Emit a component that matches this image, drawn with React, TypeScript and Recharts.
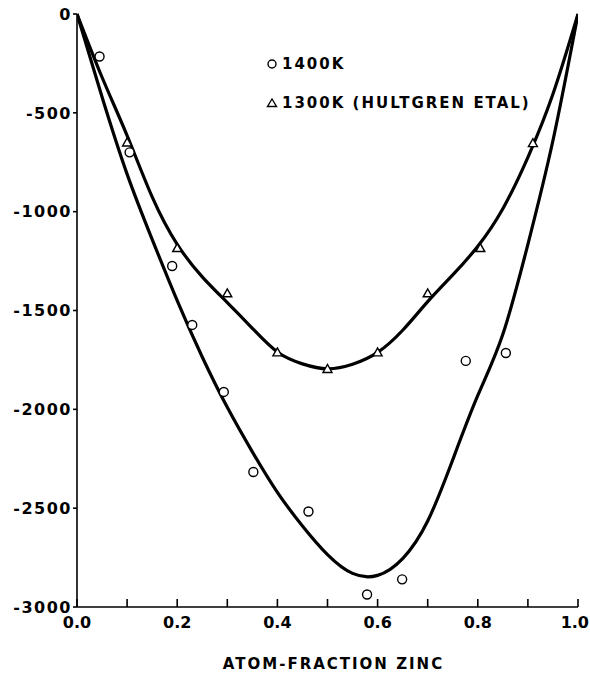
import React from 'react';
import { ComposedChart, Line, Scatter, XAxis, YAxis, Legend } from 'recharts';

document.body.style.margin = '0';

const curveX = [0, 0.05, 0.1, 0.15, 0.2, 0.25, 0.3, 0.35, 0.4, 0.45, 0.5, 0.55, 0.6, 0.65, 0.7, 0.75, 0.8, 0.85, 0.9, 0.95, 1.0];
const curve1400 = [0, -420, -810, -1140, -1450, -1735, -1990, -2215, -2420, -2590, -2735, -2830, -2840, -2755, -2565, -2255, -1930, -1620, -1165, -640, 0];
const curve1300 = [0, -320, -615, -925, -1165, -1330, -1460, -1590, -1710, -1770, -1795, -1772, -1712, -1600, -1455, -1320, -1175, -985, -725, -405, 0];

// measured points
const pts1400X = [0.045, 0.105, 0.19, 0.23, 0.293, 0.352, 0.462, 0.579, 0.649, 0.776, 0.856];
const pts1400Y = [-215, -700, -1275, -1573, -1912, -2317, -2517, -2937, -2860, -1755, -1715];
const pts1300X = [0.1, 0.2, 0.3, 0.4, 0.5, 0.6, 0.7, 0.805, 0.91];
const pts1300Y = [-650, -1184, -1413, -1712, -1796, -1712, -1413, -1184, -653];

const xTicks = [0, 0.1, 0.2, 0.3, 0.4, 0.5, 0.6, 0.7, 0.8, 0.9, 1.0];
const yTicks = [0, -500, -1000, -1500, -2000, -2500, -3000];

const legendLabels = ['1400K', '1300K (HULTGREN ETAL)'];
const xTitle = 'ATOM-FRACTION ZINC';

const font = 'DejaVu Sans';

const line1400 = curveX.map((x, i) => ({ x, y: curve1400[i] }));
const line1300 = curveX.map((x, i) => ({ x, y: curve1300[i] }));
const scatter1400 = pts1400X.map((x, i) => ({ x, y: pts1400Y[i] }));
const scatter1300 = pts1300X.map((x, i) => ({ x, y: pts1300Y[i] }));

const Circle = (props: any) => {
    const { cx, cy } = props;
    return <circle cx={cx} cy={cy} r={4.5} fill="#fff" stroke="#000" strokeWidth={1.4} />;
};

const Triangle = (props: any) => {
    const { cx, cy } = props;
    return (
        <polygon
            points={`${cx - 4.5},${cy + 3.5} ${cx + 4.5},${cy + 3.5} ${cx},${cy - 4.5}`}
            fill="#fff"
            stroke="#000"
            strokeWidth={1.4}
        />
    );
};

// labels only every 0.2; the last one is pulled in so it stays on the page
const XTick = (props: any) => {
    const { x, y, payload } = props;
    const v = payload.value as number;
    if (Math.round(v * 10) % 2 !== 0) return null;
    const last = v === 1;
    return (
        <text
            x={last ? x + 11 : x}
            y={y}
            dy="0.71em"
            textAnchor={last ? 'end' : 'middle'}
            fill="#000"
            fontSize={16}
            fontFamily={font}
            fontWeight="bold"
        >
            {v.toFixed(1)}
        </text>
    );
};

const LegendBox = () => (
    <div style={{ fontFamily: font, fontWeight: 'bold', fontSize: 15, letterSpacing: 2, color: '#000' }}>
        <div style={{ display: 'flex', alignItems: 'center', height: 20 }}>
            <svg width={17} height={20}>
                <circle cx={7} cy={10} r={4} fill="none" stroke="#000" strokeWidth={1.4} />
            </svg>
            <span>{legendLabels[0]}</span>
        </div>
        <div style={{ display: 'flex', alignItems: 'center', height: 20, marginTop: 19 }}>
            <svg width={17} height={20}>
                <polygon points="2.5,13.5 11.5,13.5 7,6" fill="none" stroke="#000" strokeWidth={1.4} />
            </svg>
            <span>{legendLabels[1]}</span>
        </div>
    </div>
);

export default function App() {
    const tickStyle = { fontSize: 16, fill: '#000', fontFamily: font, fontWeight: 'bold', letterSpacing: 1.5 };
    return (
        <ComposedChart
            width={590}
            height={673}
            margin={{ top: 14, right: 12, bottom: 0, left: 0 }}
        >
            <XAxis
                dataKey="x"
                type="number"
                domain={[0, 1]}
                ticks={xTicks}
                allowDataOverflow
                height={66}
                stroke="#000"
                strokeWidth={1.6}
                tickSize={-8}
                tickMargin={18}
                tick={<XTick />}
                label={{ value: xTitle, position: 'insideBottom', offset: 4, dx: 6, fill: '#000', fontSize: 15, fontFamily: font, fontWeight: 'bold', letterSpacing: 2 }}
            />
            <XAxis
                xAxisId="top"
                orientation="top"
                dataKey="x"
                type="number"
                domain={[0, 1]}
                ticks={xTicks}
                height={0}
                stroke="#000"
                strokeWidth={1.4}
                tickSize={-7}
                tick={false}
            />
            <YAxis
                type="number"
                domain={[-3000, 0]}
                ticks={yTicks}
                width={77}
                stroke="#000"
                strokeWidth={1.6}
                tickSize={4}
                tickMargin={1}
                tick={tickStyle}
            />
            <YAxis
                yAxisId="right"
                orientation="right"
                type="number"
                domain={[-3000, 0]}
                ticks={yTicks}
                width={0}
                stroke="#000"
                strokeWidth={1.4}
                tickSize={-7}
                tick={false}
            />
            <Legend
                layout="horizontal"
                verticalAlign="middle"
                align="center"
                content={<LegendBox />}
                wrapperStyle={{ position: 'absolute', left: 265, top: 54, width: 320 }}
            />
            <Line data={line1400} dataKey="y" type="natural" stroke="#000" strokeWidth={3.2} dot={false} isAnimationActive={false} legendType="none" />
            <Line data={line1300} dataKey="y" type="natural" stroke="#000" strokeWidth={3.2} dot={false} isAnimationActive={false} legendType="none" />
            <Scatter data={scatter1400} dataKey="y" shape={<Circle />} isAnimationActive={false} legendType="none" />
            <Scatter data={scatter1300} dataKey="y" shape={<Triangle />} isAnimationActive={false} legendType="none" />
        </ComposedChart>
    );
}
